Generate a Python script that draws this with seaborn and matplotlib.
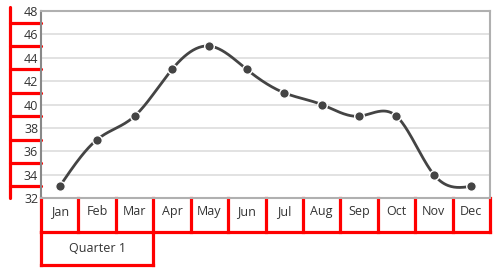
import numpy as np
import pandas as pd
import matplotlib
matplotlib.use("Agg")
import matplotlib.pyplot as plt
import matplotlib.transforms as mtransforms
import seaborn as sns

# ---- data ----
months = ["Jan", "Feb", "Mar", "Apr", "May", "Jun", "Jul", "Aug", "Sep", "Oct", "Nov", "Dec"]
values = [33, 37, 39, 43, 45, 43, 41, 40, 39, 39, 34, 33]
y_ticks = [32, 34, 36, 38, 40, 42, 44, 46, 48]
y_box_lines = [33, 35, 37, 39, 41, 43, 45, 47]
quarter_label = "Quarter 1"
quarter_span = (0, 2)  # Jan..Mar

sns.set_theme(style="white")
plt.rcParams["font.family"] = ["Open Sans", "DejaVu Sans"]

fig = plt.figure(figsize=(5, 2.77), dpi=100)
ax = fig.add_axes([41 / 500, 1 - 198 / 277, 449 / 500, 187 / 277])

# natural cubic spline through the points
n = len(values)
xi = np.arange(n, dtype=float)
yi = np.array(values, dtype=float)
A = np.zeros((n - 2, n - 2))
for i in range(n - 2):
    A[i, i] = 4.0
    if i > 0:
        A[i, i - 1] = 1.0
    if i < n - 3:
        A[i, i + 1] = 1.0
rhs = 6.0 * (yi[:-2] - 2 * yi[1:-1] + yi[2:])
M = np.zeros(n)
M[1:-1] = np.linalg.solve(A, rhs)
xs, ys = [], []
for i in range(n - 1):
    t = np.linspace(0, 1, 40)
    s = ((1 - t) * yi[i] + t * yi[i + 1]
         + ((1 - t) ** 3 - (1 - t)) * M[i] / 6 + (t ** 3 - t) * M[i + 1] / 6)
    xs.extend(i + t)
    ys.extend(s)
curve = pd.DataFrame({"x": xs, "y": ys})
pts = pd.DataFrame({"x": xi, "y": yi})

line_color = "#444444"
sns.lineplot(data=curve, x="x", y="y", ax=ax, color=line_color, lw=2.0,
             sort=False, estimator=None, zorder=2)
sns.scatterplot(data=pts, x="x", y="y", ax=ax, color=line_color, s=48,
                edgecolor="white", linewidth=1.0, zorder=3)

ax.set_xlim(-0.5, n - 0.5)
ax.set_ylim(32, 48)
ax.set_yticks(y_ticks)
ax.set_yticklabels([str(v) for v in y_ticks], fontsize=9, color="#333333")
ax.set_xticks(range(n))
ax.set_xticklabels(months, fontsize=9, color="#333333")
ax.tick_params(axis="y", length=0, pad=2)
ax.tick_params(axis="x", length=0, pad=5)
ax.set_xlabel("")
ax.set_ylabel("")
ax.grid(axis="y", color="#dddddd", lw=1.2)
ax.grid(axis="x", visible=False)
for side, sp in ax.spines.items():
    sp.set_visible(True)
    sp.set_color("#b0b0b0")
    sp.set_linewidth(1.5)
ax.spines["left"].set_color("#888888")

red = "#ff0000"
rlw = 2.3
# x-axis label boxes (x data, y axes)
tx = mtransforms.blended_transform_factory(ax.transData, ax.transAxes)
row1 = -34 / 187
row2 = -67 / 187
for k in range(n + 1):
    ax.plot([k - 0.5, k - 0.5], [0, row1], color=red, lw=rlw, transform=tx,
            clip_on=False, solid_capstyle="projecting")
ax.plot([-0.5, n - 0.5], [row1, row1], color=red, lw=rlw, transform=tx,
        clip_on=False, solid_capstyle="projecting")
q0, q1 = quarter_span
ax.plot([q0 - 0.5, q0 - 0.5], [row1, row2], color=red, lw=rlw, transform=tx, clip_on=False,
        solid_capstyle="projecting")
ax.plot([q1 + 0.5, q1 + 0.5], [row1, row2], color=red, lw=rlw, transform=tx, clip_on=False,
        solid_capstyle="projecting")
ax.plot([q0 - 0.5, q1 + 0.5], [row2, row2], color=red, lw=rlw, transform=tx, clip_on=False,
        solid_capstyle="projecting")
ax.text((q0 + q1) / 2, (row1 + row2) / 2, quarter_label, transform=tx,
        ha="center", va="center", fontsize=9, color="#333333")

# y-axis label boxes (x axes, y data)
ty = mtransforms.blended_transform_factory(ax.transAxes, ax.transData)
yx = -31 / 449
ax.plot([yx, yx], [32, 48.3], color=red, lw=rlw, transform=ty, clip_on=False)
for v in y_box_lines:
    ax.plot([yx, 0], [v, v], color=red, lw=rlw, transform=ty, clip_on=False)

fig.savefig("out.png", dpi=100)
